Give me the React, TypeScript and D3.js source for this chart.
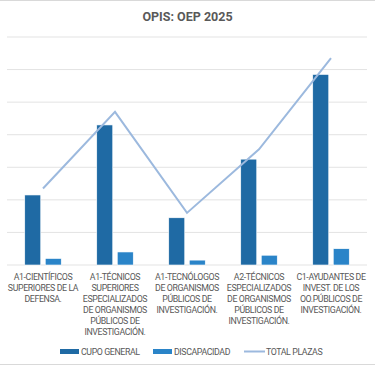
import * as d3 from 'd3';

const categories = [
  'A1-CIENTÍFICOS\nSUPERIORES DE LA\nDEFENSA.',
  'A1-TÉCNICOS\nSUPERIORES\nESPECIALIZADOS\nDE ORGANISMOS\nPÚBLICOS DE\nINVESTIGACIÓN.',
  'A1-TECNÓLOGOS\nDE ORGANISMOS\nPÚBLICOS DE\nINVESTIGACIÓN.',
  'A2-TÉCNICOS\nESPECIALIZADOS\nDE ORGANISMOS\nPÚBLICOS DE\nINVESTIGACIÓN.',
  'C1-AYUDANTES DE\nINVEST. DE LOS\nOO.PÚBLICOS DE\nINVESTIGACIÓN.',
];
const cupoGeneral = [43, 86, 29, 65, 117];
const discapacidad = [4, 8, 3, 6, 10];
const totalPlazas = [47, 94, 32, 71, 127];
const yTicks = [0, 20, 40, 60, 80, 100, 120, 140];

const W = 375;
const H = 366;
const FONT = 'Roboto, "Liberation Sans", sans-serif';
const TEXT = '#595959';
const C_CUPO = '#1f6aa4';
const C_DISC = '#2a84c8';
const C_TOTAL = '#9cb9de';
const LABEL_SIZE = 8.8;
const LABEL_SPACING = -0.4;

export default function App() {
  const margin = { top: 37, right: 8, bottom: 101, left: 7 };
  const x = d3.scaleBand<number>()
    .domain(categories.map((_, i) => i))
    .range([margin.left, W - margin.right])
    .paddingInner(0)
    .paddingOuter(0);
  const y = d3.scaleLinear().domain([0, 140]).range([H - margin.bottom, margin.top]);
  const barW = 16;
  const gap = 4.5;

  const line = d3.line<number>()
    .x((_, i) => (x(i) || 0) + x.bandwidth() / 2)
    .y(d => y(d));

  const legend = [
    { label: 'CUPO GENERAL', color: C_CUPO, type: 'bar', x: 60 },
    { label: 'DISCAPACIDAD', color: C_DISC, type: 'bar', x: 153 },
    { label: 'TOTAL PLAZAS', color: C_TOTAL, type: 'line', x: 244 },
  ];

  return (
    <svg width={W} height={H} style={{ position: 'absolute', left: 0, top: 0, fontFamily: FONT }}>
      <rect width={W} height={H} fill="#fff" />
      <line x1={0} x2={W} y1={0.5} y2={0.5} stroke="#d9d9d9" />
      <line x1={0} x2={W} y1={H - 1.5} y2={H - 1.5} stroke="#d9d9d9" />
      <text x={W / 2} y={21} textAnchor="middle" fontSize={12.5} fontWeight={700} fill={TEXT}>
        OPIS: OEP 2025
      </text>

      {yTicks.map(t => (
        <line key={t} x1={margin.left} x2={W - margin.right} y1={y(t)} y2={y(t)}
          stroke="#e3e3e3" strokeWidth={1} />
      ))}

      {categories.map((_, i) => {
        const cx = (x(i) || 0) + x.bandwidth() / 2;
        return (
          <g key={i}>
            <rect x={cx - gap / 2 - barW} y={y(cupoGeneral[i])} width={barW}
              height={y(0) - y(cupoGeneral[i])} fill={C_CUPO} stroke="#fff" strokeWidth={0.6} />
            <rect x={cx + gap / 2} y={y(discapacidad[i])} width={barW}
              height={y(0) - y(discapacidad[i])} fill={C_DISC} stroke="#fff" strokeWidth={0.6} />
          </g>
        );
      })}

      <path d={line(totalPlazas) || ''} fill="none" stroke={C_TOTAL} strokeWidth={2} />

      {categories.map((c, i) => {
        const cx = (x(i) || 0) + x.bandwidth() / 2;
        return (
          <text key={i} x={cx} y={y(0) + 15} textAnchor="middle" fontSize={LABEL_SIZE}
            letterSpacing={LABEL_SPACING} fill={TEXT}>
            {c.split('\n').map((l, j) => (
              <tspan key={j} x={cx} dy={j === 0 ? 0 : 10.9}>{l}</tspan>
            ))}
          </text>
        );
      })}

      {legend.map(l => (
        <g key={l.label}>
          {l.type === 'bar'
            ? <rect x={l.x} y={349} width={19} height={5} fill={l.color} />
            : <line x1={l.x} x2={l.x + 21} y1={351.5} y2={351.5} stroke={l.color} strokeWidth={2} />}
          <text x={l.x + (l.type === 'bar' ? 21 : 22)} y={355} fontSize={LABEL_SIZE}
            letterSpacing={LABEL_SPACING} fill={TEXT}>{l.label}</text>
        </g>
      ))}
    </svg>
  );
}
